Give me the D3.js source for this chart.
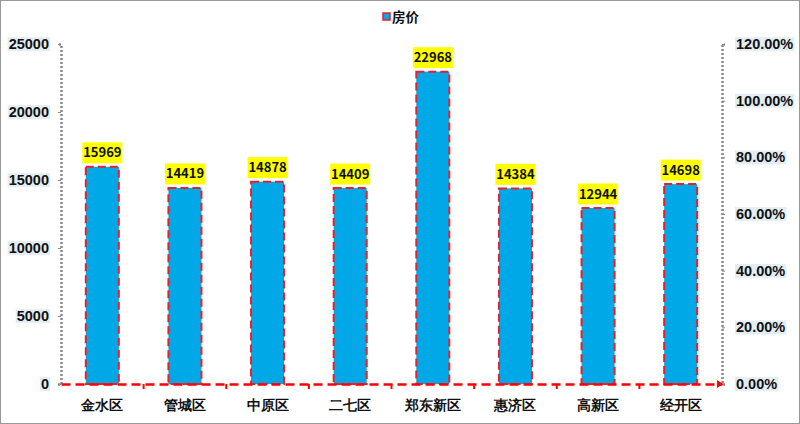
<!DOCTYPE html>
<html><head><meta charset="utf-8">
<script src="https://cdn.jsdelivr.net/npm/d3@7/dist/d3.min.js"></script>
<style>body{margin:0;background:#fff;}svg{display:block;font-family:"Noto Sans CJK SC","Noto Sans",sans-serif;}</style>
</head><body><svg id="c" width="800" height="424"></svg>
<script>
const categories = ["金水区","管城区","中原区","二七区","郑东新区","惠济区","高新区","经开区"];
const prices = [15969,14419,14878,14409,22968,14384,12944,14698];
const leftTicks = [0,5000,10000,15000,20000,25000];
const rightTicks = [0,0.2,0.4,0.6,0.8,1.0,1.2];
const seriesName = "房价";

const svg = d3.select("#c");
svg.append("rect").attr("x",0.5).attr("y",0.5).attr("width",799).attr("height",423).attr("fill","#fff").attr("stroke","#999");

const L=61, R=722, T=44, B=384;
const x = d3.scaleBand().domain(categories).range([L,R]).paddingInner(0.6).paddingOuter(0.3);
const y = d3.scaleLinear().domain([0,25000]).range([B,T]);
const y2 = d3.scaleLinear().domain([0,1.2]).range([B,T]);

// left axis
const gl = svg.append("g").attr("transform",`translate(${L},0)`).call(d3.axisLeft(y).tickValues(leftTicks).tickSize(3).tickPadding(9).tickFormat(d3.format("d")));
gl.select(".domain").attr("stroke","#888").attr("stroke-width",2.5).attr("stroke-dasharray","2,2");
gl.selectAll(".tick line").attr("stroke","#888");
gl.selectAll(".tick text").attr("font-size",14.5).attr("font-weight","bold").attr("fill","#111");

const gr = svg.append("g").attr("transform",`translate(${R},0)`).call(d3.axisRight(y2).tickValues(rightTicks).tickSize(3).tickPadding(11).tickFormat(d3.format(".2%")));
gr.select(".domain").attr("stroke","#888").attr("stroke-width",2.5).attr("stroke-dasharray","2,2");
gr.selectAll(".tick line").attr("stroke","#888");
gr.selectAll(".tick text").attr("font-size",14.5).attr("font-weight","bold").attr("fill","#111");

// label backgrounds for tick labels
[gl,gr].forEach(g=>{
  g.selectAll(".tick").each(function(){
    const t=d3.select(this).select("text"); const bb=t.node().getBBox();
    d3.select(this).insert("rect","text").attr("x",bb.x-1).attr("y",bb.y+1).attr("width",bb.width+2).attr("height",bb.height-2).attr("fill","#e3edf3");
  });
});

// bars
svg.append("g").selectAll("rect").data(prices).join("rect")
  .attr("x",(d,i)=>x(categories[i])).attr("y",d=>y(d))
  .attr("width",x.bandwidth()).attr("height",d=>B-y(d))
  .attr("fill","#00a8e8").attr("stroke","#e8202a").attr("stroke-width",2).attr("stroke-dasharray","8,4");

// x axis
const gx = svg.append("g").attr("transform",`translate(0,${B})`).call(d3.axisBottom(x).tickSize(0).tickPadding(16));
gx.select(".domain").attr("stroke","#ff0000").attr("stroke-width",2.5).attr("stroke-dasharray","9,5");
gx.selectAll(".tick text").attr("font-size",13.5).attr("font-weight","bold").attr("fill","#111");
// boundary ticks
svg.append("g").selectAll("line").data(d3.range(1,categories.length)).join("line")
  .attr("x1",i=>L+(R-L)*i/categories.length).attr("x2",i=>L+(R-L)*i/categories.length)
  .attr("y1",B).attr("y2",B+5).attr("stroke","#ff0000").attr("stroke-width",2);
svg.append("path").attr("d",`M${R-5},${B-4}L${R+1},${B}L${R-5},${B+4}Z`).attr("fill","#ff0000");

// value labels
const lg = svg.append("g").selectAll("g").data(prices).join("g")
  .attr("transform",(d,i)=>`translate(${x(categories[i])+x.bandwidth()/2},${y(d)-14})`);
lg.append("rect").attr("x",-20).attr("y",-10.5).attr("width",40).attr("height",21).attr("fill","#ffff00");
lg.append("text").attr("text-anchor","middle").attr("dy","0.35em").attr("font-size",13).attr("font-weight","bold").attr("fill","#111").text(d=>d);

// legend
const leg = svg.append("g").attr("transform","translate(386,17)");
leg.append("rect").attr("x",-3).attr("y",-4).attr("width",7).attr("height",7).attr("fill","#00a8e8").attr("stroke","#e8202a").attr("stroke-width",1.5);
leg.append("text").attr("x",6).attr("dy","0.35em").attr("font-size",13.5).attr("font-weight","bold").attr("fill","#111").text(seriesName);
</script></body></html>
